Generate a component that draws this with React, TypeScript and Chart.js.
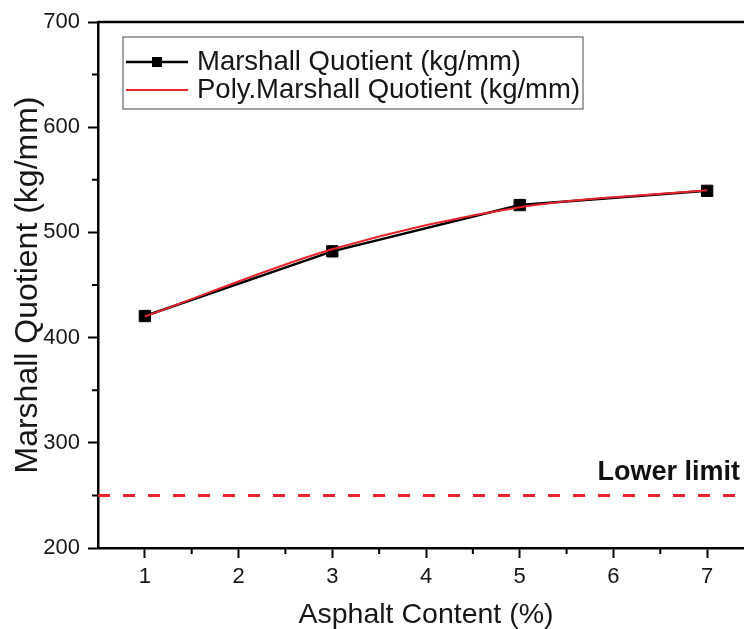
import { useEffect, useRef } from "react";
import { Chart, registerables } from "chart.js";

Chart.register(...registerables);

// Asphalt content (%) and measured Marshall quotient (kg/mm)
const asphaltContent = [1, 3, 5, 7];
const marshallQuotient = [420.5, 482, 526, 539.5];
// Second-order polynomial fit evaluated at the same contents
const polyFitQuotient = [420, 484, 524, 540];

// Specification lower limit (kg/mm)
const lowerLimitValue = 250;
const lowerLimitSpan = [0.5, 7.5];

const xMajorTicks = [1, 2, 3, 4, 5, 6, 7];
const xMinorTicks = [1.5, 2.5, 3.5, 4.5, 5.5, 6.5];
const yMajorTicks = [200, 300, 400, 500, 600, 700];
const yMinorTicks = [250, 350, 450, 550, 650];

const seriesLabel = "Marshall Quotient (kg/mm)";
const fitLabel = "Poly.Marshall Quotient (kg/mm)";
const xTitle = "Asphalt Content (%)";
const yTitle = "Marshall Quotient (kg/mm)";
const limitLabel = "Lower limit";

const FONT = "'Liberation Sans', Arial, sans-serif";
const RED = "#e8232b";
const INK = "#161616";

const decorations = {
  id: "decorations",
  afterDraw(chart: any) {
    const { ctx, chartArea, scales } = chart;
    const xs = scales.x;
    const ys = scales.y;
    ctx.save();

    // frame (top and right edges)
    ctx.strokeStyle = "#000";
    ctx.lineWidth = 2.5;
    ctx.beginPath();
    ctx.moveTo(chartArea.left, chartArea.top);
    ctx.lineTo(chartArea.right, chartArea.top);
    ctx.lineTo(chartArea.right, chartArea.bottom);
    ctx.stroke();

    // minor ticks, pointing outwards
    ctx.lineWidth = 2;
    ctx.beginPath();
    for (const v of xMinorTicks) {
      const px = xs.getPixelForValue(v);
      ctx.moveTo(px, chartArea.bottom);
      ctx.lineTo(px, chartArea.bottom + 6);
    }
    for (const v of yMinorTicks) {
      const py = ys.getPixelForValue(v);
      ctx.moveTo(chartArea.left, py);
      ctx.lineTo(chartArea.left - 6, py);
    }
    ctx.stroke();

    // limit annotation
    ctx.fillStyle = "#111";
    ctx.font = `bold 27px ${FONT}`;
    ctx.textAlign = "right";
    ctx.textBaseline = "middle";
    ctx.fillText(limitLabel, chartArea.right - 14, ys.getPixelForValue(lowerLimitValue) - 23);

    // legend box
    const bx = chartArea.left + 25;
    const by = chartArea.top + 15;
    const bw = 460;
    const bh = 72;
    ctx.fillStyle = "#fff";
    ctx.fillRect(bx, by, bw, bh);
    ctx.strokeStyle = "#666";
    ctx.lineWidth = 1.2;
    ctx.strokeRect(bx, by, bw, bh);

    const ds = chart.data.datasets;
    const rows = [ds[0], ds[1]];
    rows.forEach((d: any, i: number) => {
      const cy = by + 25 + i * 28;
      ctx.strokeStyle = d.borderColor;
      ctx.lineWidth = d.borderWidth;
      ctx.beginPath();
      ctx.moveTo(bx + 3, cy);
      ctx.lineTo(bx + 65, cy);
      ctx.stroke();
      if (d.pointRadius > 0) {
        ctx.fillStyle = d.pointBackgroundColor;
        ctx.fillRect(bx + 34 - 5, cy - 5, 10, 10);
      }
      ctx.fillStyle = INK;
      ctx.font = `27.5px ${FONT}`;
      ctx.textAlign = "left";
      ctx.textBaseline = "middle";
      ctx.fillText(d.label, bx + 74, cy);
    });

    ctx.restore();
  },
};

export default function App() {
  const canvasRef = useRef<HTMLCanvasElement | null>(null);

  useEffect(() => {
    const canvas = canvasRef.current;
    if (!canvas) return;
    const chart = new Chart(canvas, {
      type: "line",
      data: {
        datasets: [
          {
            label: seriesLabel,
            data: asphaltContent.map((x, i) => ({ x, y: marshallQuotient[i] })),
            borderColor: "#000",
            borderWidth: 2.5,
            pointStyle: "rect",
            pointRadius: 8,
            pointBackgroundColor: "#000",
            pointBorderColor: "#000",
            pointBorderWidth: 1,
            tension: 0,
            order: 1,
          },
          {
            label: fitLabel,
            data: asphaltContent.map((x, i) => ({ x, y: polyFitQuotient[i] })),
            borderColor: RED,
            borderWidth: 2,
            pointRadius: 0,
            cubicInterpolationMode: "monotone",
            order: 0,
          },
          {
            label: limitLabel,
            data: lowerLimitSpan.map((x) => ({ x, y: lowerLimitValue })),
            borderColor: RED,
            borderWidth: 3,
            borderDash: [12, 13],
            pointRadius: 0,
            order: 2,
          },
        ],
      },
      options: {
        responsive: false,
        animation: false,
        devicePixelRatio: 1,
        layout: { padding: { top: 22, right: 16, left: 0, bottom: 0 } },
        plugins: {
          legend: { display: false },
          tooltip: { enabled: false },
        },
        scales: {
          x: {
            type: "linear",
            min: 0.5,
            max: 7.5,
            afterBuildTicks: (s: any) => {
              s.ticks = xMajorTicks.map((value) => ({ value }));
            },
            afterFit: (s: any) => {
              s.height = 81;
            },
            border: { color: "#000", width: 2.5 },
            grid: { drawOnChartArea: false, tickLength: 10, tickWidth: 2, tickColor: "#000" },
            ticks: {
              color: INK,
              font: { family: FONT, size: 22 },
              padding: 6,
              maxRotation: 0,
            },
            title: {
              display: true,
              text: xTitle,
              color: INK,
              font: { family: FONT, size: 28.5, lineHeight: 1 },
              padding: { top: 0, bottom: 0 },
            },
          },
          y: {
            type: "linear",
            min: 200,
            max: 700,
            afterBuildTicks: (s: any) => {
              s.ticks = yMajorTicks.map((value) => ({ value }));
            },
            afterFit: (s: any) => {
              s.width = 98;
            },
            border: { color: "#000", width: 2.5 },
            grid: { drawOnChartArea: false, tickLength: 10, tickWidth: 2, tickColor: "#000" },
            ticks: {
              color: INK,
              font: { family: FONT, size: 22 },
              padding: 8,
            },
            title: {
              display: true,
              text: yTitle,
              color: INK,
              font: { family: FONT, size: 32, lineHeight: 1 },
              padding: { top: 12, bottom: 0 },
            },
          },
        },
      },
      plugins: [decorations],
    });
    return () => chart.destroy();
  }, []);

  return (
    <div
      style={{
        position: "fixed",
        left: 0,
        top: 0,
        width: 744,
        height: 629,
        overflow: "hidden",
        background: "#fff",
      }}
    >
      <canvas ref={canvasRef} width={770} height={629} style={{ display: "block" }} />
    </div>
  );
}
